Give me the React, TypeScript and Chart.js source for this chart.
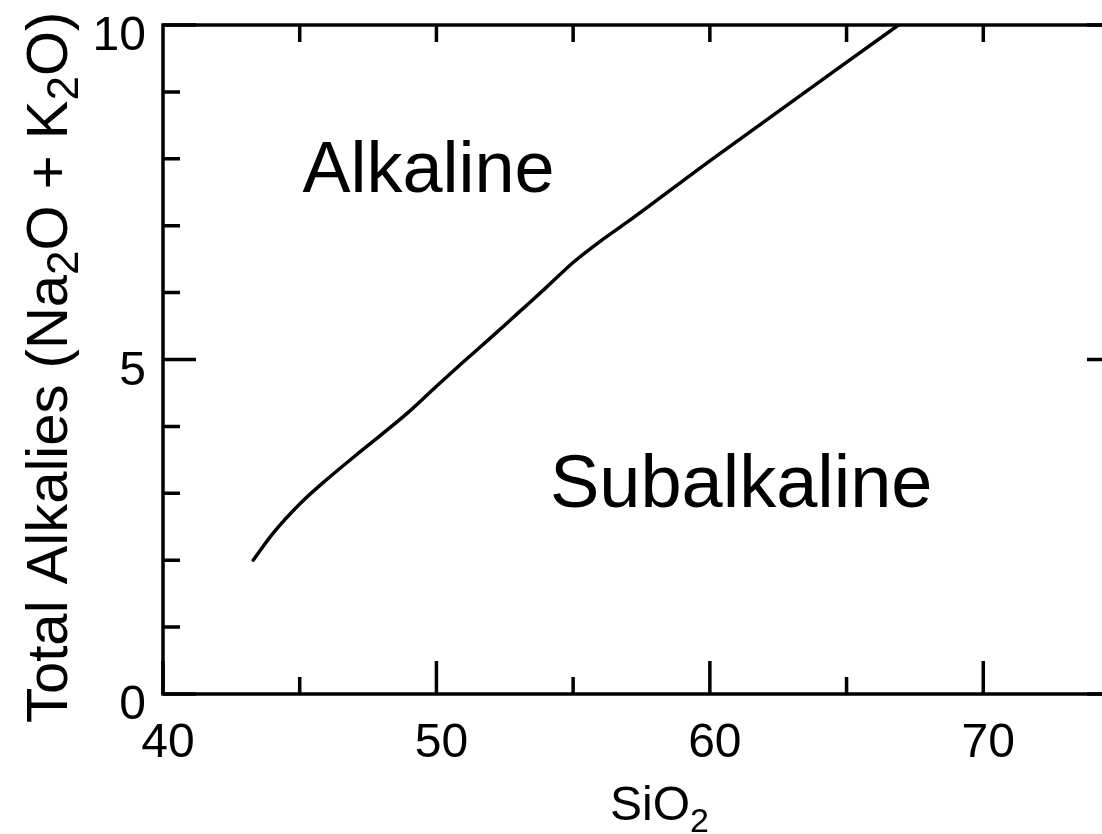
import React, { useEffect, useRef } from "react";
import { Chart, registerables } from "chart.js";

Chart.register(...registerables);

// Boundary curve (Irvine & Baragar style)
const silica = [43.3, 44, 45, 46, 47, 48, 49, 50, 51, 52, 53, 54, 55, 56, 57, 60, 66.9];
const alkalies = [2.0, 2.39, 2.84, 3.21, 3.55, 3.88, 4.22, 4.6, 4.97, 5.33, 5.7, 6.07, 6.45, 6.77, 7.06, 7.97, 10.0];

// Axis ticks
const xMajorTicks = [40, 50, 60, 70];
const xMinorTicks = [45, 55, 65, 75];
const xTopTicks = [45, 50, 55, 60, 65, 70, 75];
const yMajorTicks = [0, 5, 10];
const yMinorTicks = [1, 2, 3, 4, 6, 7, 8, 9];

// Field labels
const regionNames = ["Alkaline", "Subalkaline"];
const regionX = [45.1, 54.15];
const regionY = [7.5, 2.8];
const regionSizes = [72, 74];

const FONT = "'Liberation Sans', Arial, Helvetica, sans-serif";

const framePlugin = {
  id: "framePlugin",
  afterDraw(chart: any) {
    const ctx = chart.ctx as CanvasRenderingContext2D;
    const area = chart.chartArea;
    const xs = chart.scales.x;
    const ys = chart.scales.y;
    ctx.save();
    ctx.strokeStyle = "#000";
    ctx.fillStyle = "#000";
    ctx.lineWidth = 3.5;
    ctx.lineCap = "butt";
    // frame
    ctx.strokeRect(area.left, area.top, area.right - area.left, area.bottom - area.top);

    const major = 33;
    const minor = 17;
    ctx.beginPath();
    // bottom ticks
    for (const v of xMajorTicks) {
      const p = xs.getPixelForValue(v);
      ctx.moveTo(p, area.bottom);
      ctx.lineTo(p, area.bottom - major);
    }
    for (const v of xMinorTicks) {
      const p = xs.getPixelForValue(v);
      ctx.moveTo(p, area.bottom);
      ctx.lineTo(p, area.bottom - minor);
    }
    // top ticks
    for (const v of xTopTicks) {
      const p = xs.getPixelForValue(v);
      ctx.moveTo(p, area.top);
      ctx.lineTo(p, area.top + minor);
    }
    // left & right ticks
    for (const v of yMajorTicks) {
      const p = ys.getPixelForValue(v);
      ctx.moveTo(area.left, p);
      ctx.lineTo(area.left + major, p);
      ctx.moveTo(area.right, p);
      ctx.lineTo(area.right - major, p);
    }
    for (const v of yMinorTicks) {
      const p = ys.getPixelForValue(v);
      ctx.moveTo(area.left, p);
      ctx.lineTo(area.left + minor, p);
      ctx.moveTo(area.right, p);
      ctx.lineTo(area.right - minor, p);
    }
    ctx.stroke();

    // tick labels
    ctx.font = `48px ${FONT}`;
    ctx.textBaseline = "alphabetic";
    ctx.textAlign = "center";
    for (const v of xMajorTicks) {
      const p = xs.getPixelForValue(v);
      ctx.fillText(String(v), p + 5, area.bottom + 63);
    }
    ctx.textAlign = "right";
    for (const v of yMajorTicks) {
      const p = ys.getPixelForValue(v);
      ctx.fillText(String(v), area.left - 17, p + 25);
    }

    // region labels
    ctx.textAlign = "left";
    regionNames.forEach((name, i) => {
      ctx.font = `${regionSizes[i]}px ${FONT}`;
      ctx.fillText(name, xs.getPixelForValue(regionX[i]), ys.getPixelForValue(regionY[i]));
    });

    const drawRich = (parts: { t: string; sub: boolean }[], x: number, y: number, size: number, subSize: number, subShift: number) => {
      let cx = x;
      for (const part of parts) {
        ctx.font = `${part.sub ? subSize : size}px ${FONT}`;
        ctx.fillText(part.t, cx, y + (part.sub ? subShift : 0));
        cx += ctx.measureText(part.t).width;
      }
      return cx - x;
    };
    ctx.textAlign = "left";
    // x title: SiO2
    const xTitle = [
      { t: "SiO", sub: false },
      { t: "2", sub: true },
    ];
    drawRich(xTitle, 610, 820, 48, 34, 12);

    // y title
    const yTitle = [
      { t: "Total Alkalies (Na", sub: false },
      { t: "2", sub: true },
      { t: "O + K", sub: false },
      { t: "2", sub: true },
      { t: "O)", sub: false },
    ];
    ctx.save();
    ctx.translate(67, 723);
    ctx.rotate(-Math.PI / 2);
    drawRich(yTitle, 0, 0, 58, 44, 11);
    ctx.restore();

    ctx.restore();
  },
};

export default function App() {
  const canvasRef = useRef<HTMLCanvasElement | null>(null);

  useEffect(() => {
    const canvas = canvasRef.current;
    if (!canvas) return;
    const points = silica.map((s, i) => ({ x: s, y: alkalies[i] }));
    const chart = new Chart(canvas, {
      type: "line",
      data: {
        datasets: [
          {
            data: points,
            borderColor: "#000",
            borderWidth: 3.5,
            pointRadius: 0,
            cubicInterpolationMode: "monotone",
            fill: false,
            borderCapStyle: "round",
            borderJoinStyle: "round",
          },
        ],
      },
      options: {
        animation: false,
        responsive: false,
        devicePixelRatio: 1,
        parsing: false as any,
        layout: { padding: { left: 163, right: 20, top: 25, bottom: 140 } },
        plugins: {
          legend: { display: false },
          tooltip: { enabled: false },
          title: { display: false },
        },
        scales: {
          x: { type: "linear", min: 40, max: 75, display: false },
          y: { type: "linear", min: 0, max: 10, display: false },
        },
      },
      plugins: [framePlugin],
    });
    return () => chart.destroy();
  }, []);

  return (
    <div style={{ position: "fixed", left: 0, top: 0, width: 1140, height: 834, background: "#fff", overflow: "hidden" }}>
      <canvas ref={canvasRef} width={1140} height={834} style={{ display: "block", width: 1140, height: 834 }} />
    </div>
  );
}
